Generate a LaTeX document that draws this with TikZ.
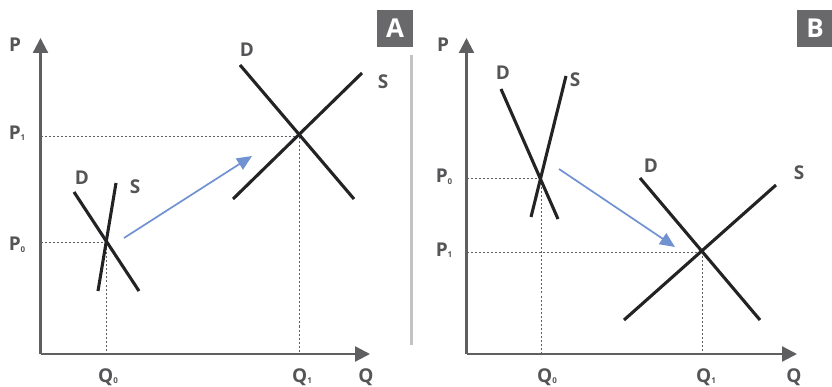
\documentclass[tikz,border=0pt]{standalone}
\usepackage{fontspec}
\setmainfont{Open Sans}
\usetikzlibrary{arrows.meta}
\definecolor{axisgray}{RGB}{95,95,97}
\definecolor{labgray}{RGB}{85,85,88}
\definecolor{curveblk}{RGB}{35,35,37}
\definecolor{shiftblue}{RGB}{112,145,210}
\definecolor{divgray}{RGB}{195,195,197}
\definecolor{boxgray}{RGB}{105,105,108}
\newcommand{\lab}[2]{#1\raisebox{-1.5pt}{\fontsize{8}{8}\selectfont #2}}
\begin{document}
\begin{tikzpicture}[x=1pt,y=-1pt,
  axisline/.style={draw=axisgray,line width=2.3pt,-{Triangle[length=15pt,width=15pt]}},
  curveline/.style={draw=curveblk,line width=3.1pt},
  guideline/.style={draw=axisgray,line width=0.8pt,dash pattern=on 2pt off 2pt},
  shiftarrow/.style={draw=shiftblue,fill=shiftblue,line width=1.7pt,-{Triangle[length=15pt,width=13pt]}},
  lbltext/.style={text=labgray,font=\bfseries\fontsize{19}{19}\selectfont,inner sep=0pt},
  tagbox/.style={fill=boxgray,text=white,font=\bfseries\fontsize{26}{26}\selectfont,minimum width=36pt,minimum height=37pt,inner sep=0pt}
]
\useasboundingbox (0,0) rectangle (832,387);
% ---------- Panel A ----------
\coordinate (Ao) at (40.5,354);
\coordinate (Aytip) at (40.5,38);
\coordinate (Axtip) at (370,354);
\coordinate (AP1) at (40.5,136);
\coordinate (AE1) at (299,136);
\coordinate (AQ1) at (299,354);
\coordinate (AP0) at (40.5,242);
\coordinate (AE0) at (106,242);
\coordinate (AQ0) at (106,354);
\draw[guideline] (AP1) -- (AE1) -- (AQ1);
\draw[guideline] (AP0) -- (AE0) -- (AQ0);
\draw[axisline] (Ao) -- (Aytip);
\draw[axisline] (Ao) -- (Axtip);
\coordinate (AdA) at (74,192);  \coordinate (AdB) at (139,291);
\coordinate (AsA) at (116,183); \coordinate (AsB) at (98,291);
\coordinate (AdC) at (240,65);  \coordinate (AdD) at (354,199);
\coordinate (AsC) at (233,199); \coordinate (AsD) at (362,73);
\draw[curveline] (AdA) -- (AdB);
\draw[curveline] (AsA) -- (AsB);
\draw[curveline] (AdC) -- (AdD);
\draw[curveline] (AsC) -- (AsD);
\coordinate (AarS) at (124,238); \coordinate (AarE) at (252,156);
\draw[shiftarrow] (AarS) -- (AarE);
\node[lbltext] (AlP) at (15,45) {P};
\node[lbltext] (AlP1) at (17,133) {\lab{P}{1}};
\node[lbltext] (AlP0) at (17,245) {\lab{P}{0}};
\node[lbltext] (AlQ0) at (108,377) {\lab{Q}{0}};
\node[lbltext] (AlQ1) at (302,377) {\lab{Q}{1}};
\node[lbltext] (AlQ) at (366,377) {Q};
\node[lbltext] (AlD0) at (82,178) {D};
\node[lbltext] (AlS0) at (135,187) {S};
\node[lbltext] (AlD1) at (247,50) {D};
\node[lbltext] (AlS1) at (383,82) {S};
\node[tagbox] (tagA) at (395,28.5) {A};
% divider
\coordinate (divT) at (411.5,55); \coordinate (divB) at (411.5,345);
\draw[divgray,line width=3pt] (divT) -- (divB);
% ---------- Panel B ----------
\coordinate (Bo) at (466.5,354);
\coordinate (Bytip) at (466.5,38);
\coordinate (Bxtip) at (797,354);
\coordinate (BP0) at (466.5,178);
\coordinate (BE0) at (541,178);
\coordinate (BQ0) at (541,354);
\coordinate (BP1) at (466.5,252);
\coordinate (BE1) at (702,252);
\coordinate (BQ1) at (702,354);
\draw[guideline] (BP0) -- (BE0) -- (BQ0);
\draw[guideline] (BP1) -- (BE1) -- (BQ1);
\draw[axisline] (Bo) -- (Bytip);
\draw[axisline] (Bo) -- (Bxtip);
\coordinate (BdA) at (501,89);  \coordinate (BdB) at (558,219);
\coordinate (BsA) at (566,76);  \coordinate (BsB) at (531,217);
\coordinate (BdC) at (640,178); \coordinate (BdD) at (760,320);
\coordinate (BsC) at (624,320); \coordinate (BsD) at (776,185);
\draw[curveline] (BdA) -- (BdB);
\draw[curveline] (BsA) -- (BsB);
\draw[curveline] (BdC) -- (BdD);
\draw[curveline] (BsC) -- (BsD);
\coordinate (BarS) at (559,169); \coordinate (BarE) at (675,247);
\draw[shiftarrow] (BarS) -- (BarE);
\node[lbltext] (BlP) at (443,45) {P};
\node[lbltext] (BlP0) at (444,177) {\lab{P}{0}};
\node[lbltext] (BlP1) at (444,250) {\lab{P}{1}};
\node[lbltext] (BlQ0) at (547,377) {\lab{Q}{0}};
\node[lbltext] (BlQ1) at (706,377) {\lab{Q}{1}};
\node[lbltext] (BlQ) at (794,377) {Q};
\node[lbltext] (BlD0) at (503,73) {D};
\node[lbltext] (BlS0) at (575,80) {S};
\node[lbltext] (BlD1) at (651,166) {D};
\node[lbltext] (BlS1) at (799,173) {S};
\node[tagbox] (tagB) at (815,28.5) {B};
\end{tikzpicture}
\end{document}
